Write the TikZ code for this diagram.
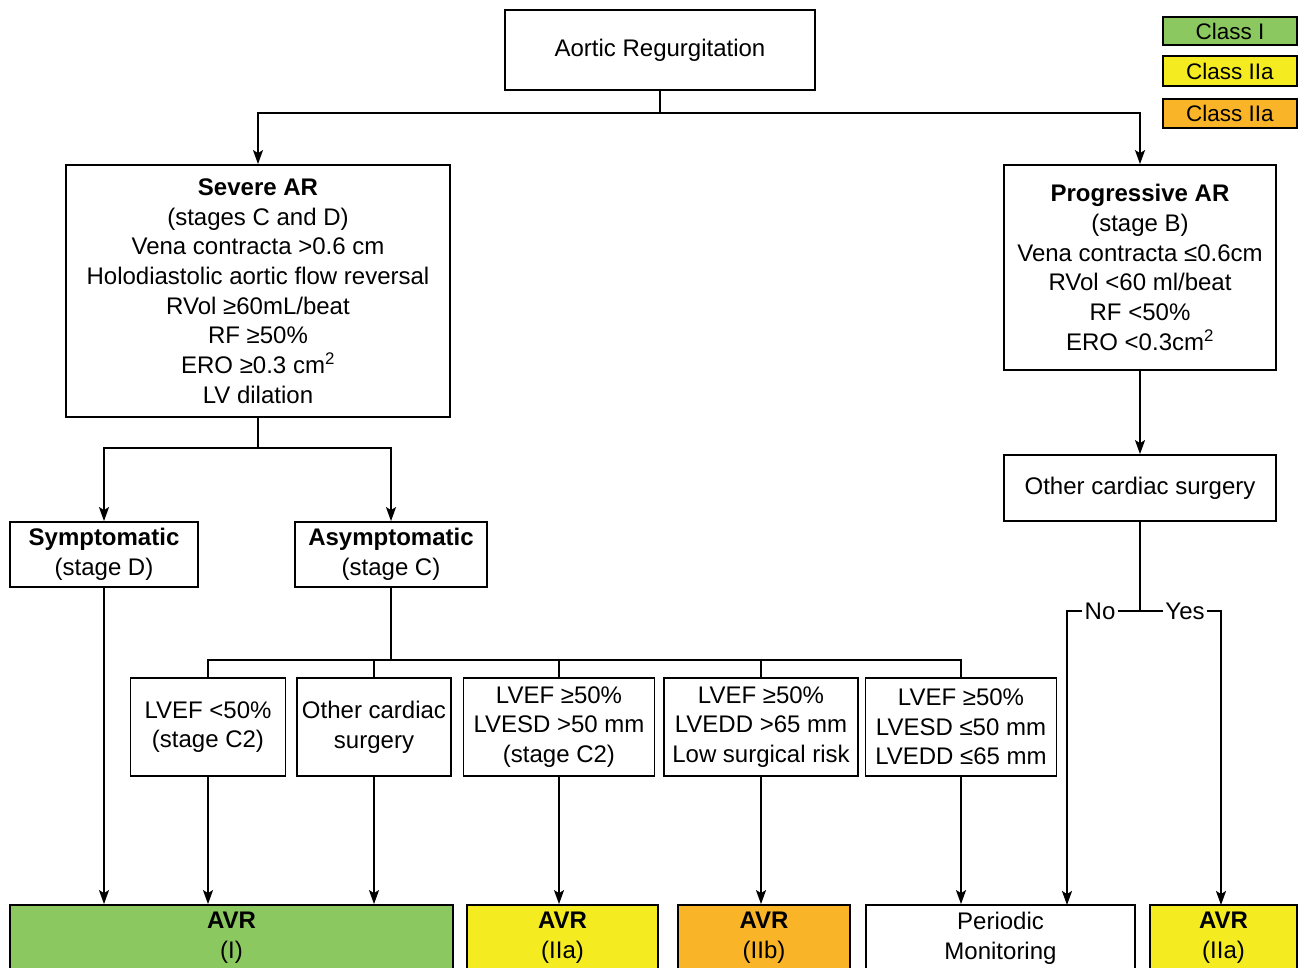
\documentclass[tikz,border=0pt]{standalone}
\usepackage{fontspec}
\setmainfont{Liberation Sans}
\usetikzlibrary{arrows.meta}
\definecolor{cgreen}{RGB}{140,200,96}
\definecolor{cyellow}{RGB}{244,236,32}
\definecolor{corange}{RGB}{250,180,40}
\tikzset{
  box/.style={draw, line width=1.8pt, align=center, inner sep=0pt, font=\fontsize{24}{29.7}\selectfont},
  conn/.style={line width=1.8pt},
  arr/.style={line width=1.8pt, -{Stealth[length=14pt,width=10pt,inset=3pt]}},
  lbl/.style={inner sep=2pt, font=\fontsize{24}{28}\selectfont},
  leg/.style={box, minimum width=134, font=\fontsize{22.5}{26}\selectfont},
}
\begin{document}
\begin{tikzpicture}[x=1pt,y=-1pt]
\useasboundingbox (0,0) rectangle (1304,968);
% legend
\node[leg, fill=cgreen, minimum height=28] (lg1) at (1230,31) {Class I};
\node[leg, fill=cyellow, minimum height=30] (lg2) at (1230,71) {Class IIa};
\node[leg, fill=corange, minimum height=29] (lg3) at (1230,113.5) {Class IIa};
% top
\node[box, minimum width=310, minimum height=80] (ar) at (660,50) {Aortic Regurgitation};
\node[box, minimum width=384, minimum height=252] (sev) at (258,291) {\textbf{Severe AR}\\(stages C and D)\\Vena contracta >0.6 cm\\Holodiastolic aortic flow reversal\\RVol ≥60mL/beat\\RF ≥50\%\\ERO ≥0.3 cm\textsuperscript{2}\\LV dilation};
\node[box, minimum width=272, minimum height=205] (prog) at (1140,267.5) {\textbf{Progressive AR}\\(stage B)\\Vena contracta ≤0.6cm\\RVol <60 ml/beat\\RF <50\%\\ERO <0.3cm\textsuperscript{2}};
\node[box, minimum width=272, minimum height=66] (ocs2) at (1140,488) {Other cardiac surgery};
\node[box, minimum width=188, minimum height=65] (sym) at (104,554.5) {\textbf{Symptomatic}\\(stage D)};
\node[box, minimum width=192, minimum height=65] (asym) at (391,554.5) {\textbf{Asymptomatic}\\(stage C)};
% second row
\node[box, minimum width=155, minimum height=98] (c1) at (208,727) {LVEF <50\%\\(stage C2)};
\node[box, minimum width=154, minimum height=98] (c2) at (374,727) {Other cardiac\\surgery};
\node[box, minimum width=191, minimum height=98] (c3) at (559,727) {LVEF ≥50\%\\LVESD >50 mm\\(stage C2)};
\node[box, minimum width=194, minimum height=98] (c4) at (761,727) {LVEF ≥50\%\\LVEDD >65 mm\\Low surgical risk};
\node[box, minimum width=191, minimum height=98] (c5) at (961,727) {LVEF ≥50\%\\LVESD ≤50 mm\\LVEDD ≤65 mm};
% bottom
\node[box, fill=cgreen, minimum width=443, minimum height=66] (avr1) at (231.5,938) {\textbf{AVR}\\(I)};
\node[box, fill=cyellow, minimum width=191, minimum height=66] (avr2) at (562.5,938) {\textbf{AVR}\\(IIa)};
\node[box, fill=corange, minimum width=172, minimum height=66] (avr3) at (764,938) {\textbf{AVR}\\(IIb)};
\node[box, minimum width=269, minimum height=66] (pm) at (1000.5,938) {Periodic\\Monitoring};
\node[box, fill=cyellow, minimum width=147, minimum height=66] (avr4) at (1223.5,938) {\textbf{AVR}\\(IIa)};
% connectors top
\coordinate (j1) at (660,113);
\draw[conn] (ar.south) -- (j1);
\draw[arr] (j1) -| (sev.north);
\draw[arr] (j1) -| (prog.north);
\coordinate (j2) at (258,448);
\draw[conn] (sev.south) -- (j2);
\draw[arr] (j2) -| (sym.north);
\draw[arr] (j2) -| (asym.north);
\draw[arr] (prog.south) -- (ocs2.north);
% No / Yes
\node[lbl] (no) at (1100,611) {No};
\node[lbl] (yes) at (1185,611) {Yes};
\coordinate (j3) at (1140,611);
\draw[conn] (ocs2.south) -- (j3);
\draw[conn] (no.east) -- (yes.west);
\coordinate (nl) at (1067,611);
\coordinate (yr) at (1221,611);
\draw[arr] (no.west) -- (nl) -- (1067,905);
\draw[arr] (yes.east) -- (yr) -- (1221,905);
% asymptomatic branches
\coordinate (j4) at (391,660);
\draw[conn] (asym.south) -- (j4);
\draw[conn] (c1.north) |- (c5.north |- j4) -- (c5.north);
\draw[conn] (c2.north) -- (c2.north |- j4);
\draw[conn] (c3.north) -- (c3.north |- j4);
\draw[conn] (c4.north) -- (c4.north |- j4);
% down arrows
\draw[arr] (sym.south) -- (sym.south |- avr1.north);
\draw[arr] (c1.south) -- (c1.south |- avr1.north);
\draw[arr] (c2.south) -- (c2.south |- avr1.north);
\draw[arr] (c3.south) -- (c3.south |- avr2.north);
\draw[arr] (c4.south) -- (c4.south |- avr3.north);
\draw[arr] (c5.south) -- (c5.south |- pm.north);
\end{tikzpicture}
\end{document}
